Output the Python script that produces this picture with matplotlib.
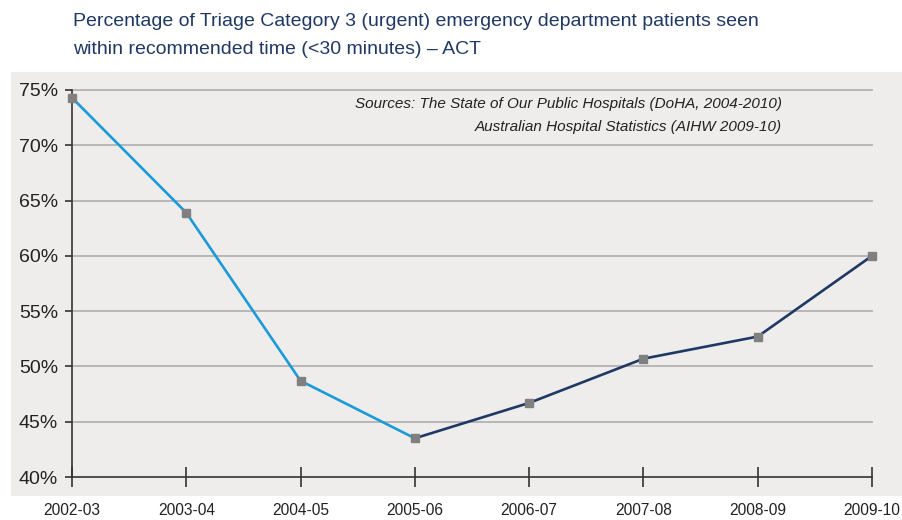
import matplotlib.pyplot as plt
from matplotlib.patches import Rectangle

# data
years = ['2002-03', '2003-04', '2004-05', '2005-06', '2006-07', '2007-08', '2008-09', '2009-10']
pct_seen = [74.3, 63.9, 48.7, 43.5, 46.7, 50.7, 52.7, 60.0]
y_ticks = [40, 45, 50, 55, 60, 65, 70, 75]

# first part of the series is drawn in light blue, the rest in navy
split_idx = 3

NAVY = '#1f3864'
LIGHT_BLUE = '#1a9bd7'
FONT = ['Liberation Sans', 'DejaVu Sans']

fig = plt.figure(figsize=(9.02, 5.2), dpi=100)

# grey panel behind the chart
fig.patches.append(Rectangle((11 / 902, 1 - 496 / 520), 1 - 11 / 902, (496 - 72) / 520,
                             transform=fig.transFigure, facecolor='#eeedec',
                             edgecolor='none', zorder=0))

ax = fig.add_axes([72 / 902, 1 - 477 / 520, 800 / 902, (477 - 90) / 520])
ax.set_zorder(2)
ax.set_facecolor('none')

x = list(range(len(years)))
ax.plot(x[:split_idx + 1], pct_seen[:split_idx + 1], color=LIGHT_BLUE, lw=1.9, zorder=3)
ax.plot(x[split_idx:], pct_seen[split_idx:], color=NAVY, lw=1.9, zorder=3)
ax.plot(x, pct_seen, ls='none', marker='s', ms=6, color='#808080', zorder=4, clip_on=False)

ax.set_xlim(0, 7)
ax.set_ylim(40, 75)
ax.set_yticks(y_ticks)
ax.set_yticklabels(['%d%%' % t for t in y_ticks], fontsize=14, family=FONT, color='#222222')
ax.set_xticks(x)
ax.set_xticklabels(years, fontsize=11.2, family=FONT, color='#222222')

# horizontal gridlines
for t in y_ticks[1:]:
    ax.axhline(t, color='#b3b3b3', lw=1.3, zorder=1, clip_on=False)

for side in ['top', 'right']:
    ax.spines[side].set_visible(False)
for side in ['left', 'bottom']:
    ax.spines[side].set_color('#333333')
    ax.spines[side].set_linewidth(1.2)

ax.tick_params(axis='y', direction='out', length=5, width=1.2, color='#333333', pad=5)
ax.tick_params(axis='x', direction='inout', length=15, width=1.2, color='#333333', pad=11)

# sources note
fig.text(782 / 902, 1 - 104 / 520, 'Sources: The State of Our Public Hospitals (DoHA, 2004-2010)',
         ha='right', va='center', fontsize=11, style='italic', family=FONT, color='#222222')
fig.text(782 / 902, 1 - 127 / 520, 'Australian Hospital Statistics (AIHW 2009-10)',
         ha='right', va='center', fontsize=11, style='italic', family=FONT, color='#222222')

# title
fig.text(73 / 902, 1 - 22 / 520, 'Percentage of Triage Category 3 (urgent) emergency department patients seen',
         ha='left', va='center', fontsize=14, family=FONT, color=NAVY)
fig.text(73 / 902, 1 - 50 / 520, 'within recommended time (<30 minutes) \u2013 ACT',
         ha='left', va='center', fontsize=14, family=FONT, color=NAVY)

fig.savefig('out.png', dpi=100)
